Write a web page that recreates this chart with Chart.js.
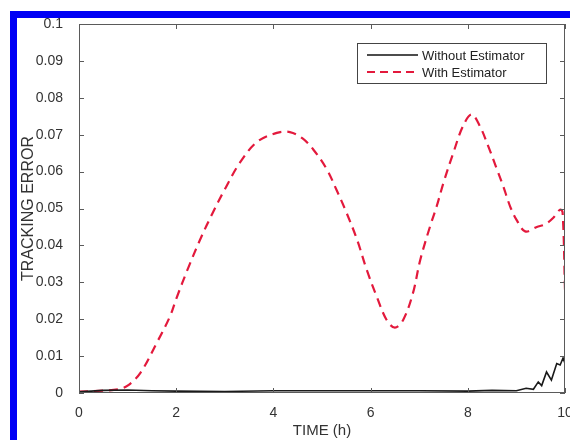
<!DOCTYPE html>
<html>
<head>
<meta charset="utf-8">
<script src="https://cdn.jsdelivr.net/npm/chart.js@4/dist/chart.umd.min.js"></script>
<style>
  html, body { margin: 0; padding: 0; background: #fff; }
  #wrap { position: relative; width: 570px; height: 440px; overflow: hidden; }
  #frame { position: absolute; left: 10px; top: 11px; right: -20px; bottom: -20px;
           border-left: 7px solid #0000f5; border-top: 7px solid #0000f5; pointer-events: none; }
  canvas { position: absolute; left: 0; top: 0; }
</style>
</head>
<body>
<div id="wrap">
  <canvas id="chart" width="570" height="440"></canvas>
  <div id="frame"></div>
</div>
<script>
// time axis (h) and tracking error for the two runs
const timeWith = [0, 0.4, 0.8, 1.0, 1.26, 1.6, 1.87, 2.0, 2.25, 2.5, 2.75, 3.0, 3.3, 3.66, 4.07, 4.34, 4.6, 4.82, 5.1, 5.3, 5.5, 5.72, 5.92, 6.13, 6.33, 6.5, 6.67, 6.87, 7.02, 7.22, 7.36, 7.5, 7.7, 7.9, 8.08, 8.25, 8.42, 8.6, 8.73, 8.87, 9.0, 9.18, 9.42, 9.59, 9.76, 9.9, 9.95, 10];
const errWith = [0.0004, 0.0006, 0.001, 0.002, 0.0054, 0.0136, 0.0207, 0.0255, 0.034, 0.0418, 0.0488, 0.0552, 0.0622, 0.068, 0.0705, 0.0707, 0.069, 0.066, 0.0606, 0.055, 0.049, 0.0416, 0.0334, 0.026, 0.0198, 0.0177, 0.0198, 0.027, 0.036, 0.045, 0.0506, 0.057, 0.065, 0.0723, 0.0755, 0.0723, 0.0669, 0.0606, 0.056, 0.0506, 0.047, 0.0438, 0.045, 0.0457, 0.0475, 0.0497, 0.049, 0.028];

const timeWithout = [0, 0.5, 1.0, 1.5, 2, 3, 4, 5, 6, 7, 8, 8.5, 9, 9.2, 9.35, 9.45, 9.52, 9.62, 9.72, 9.83, 9.9, 9.96, 10];
const errWithout = [0.0003, 0.0007, 0.0008, 0.0006, 0.0005, 0.0004, 0.0006, 0.0006, 0.0006, 0.0006, 0.0005, 0.0007, 0.0006, 0.0013, 0.001, 0.003, 0.002, 0.0057, 0.0035, 0.008, 0.0076, 0.0095, 0.008];

const xTicks = [0, 2, 4, 6, 8, 10];
const yTicks = [0, 0.01, 0.02, 0.03, 0.04, 0.05, 0.06, 0.07, 0.08, 0.09, 0.1];

const seriesNames = ['Without Estimator', 'With Estimator'];
const RED = '#e3193c';
const FONT = '"Liberation Sans", Arial, sans-serif';

const toPoints = (xs, ys) => xs.map((x, i) => ({ x: x, y: ys[i] }));

// box around the axes with inward ticks on every side, plus the boxed legend
const boxPlugin = {
  id: 'box',
  afterDatasetsDraw(chart) {
    const { ctx, chartArea: a, scales } = chart;
    ctx.save();
    ctx.strokeStyle = '#5a5a5a';
    ctx.lineWidth = 1;
    ctx.strokeRect(a.left + 0.5, a.top + 0.5, a.right - a.left - 1, a.bottom - a.top - 1);
    ctx.beginPath();
    const t = 5;
    xTicks.forEach(v => {
      const px = Math.round(scales.x.getPixelForValue(v)) + 0.5;
      ctx.moveTo(px, a.bottom); ctx.lineTo(px, a.bottom - t);
      ctx.moveTo(px, a.top); ctx.lineTo(px, a.top + t);
    });
    yTicks.forEach(v => {
      const py = Math.round(scales.y.getPixelForValue(v)) + 0.5;
      ctx.moveTo(a.left, py); ctx.lineTo(a.left + t, py);
      ctx.moveTo(a.right, py); ctx.lineTo(a.right - t, py);
    });
    ctx.stroke();

    // legend
    const lx = 357, ly = 43, lw = 189, lh = 40;
    ctx.fillStyle = '#fff';
    ctx.fillRect(lx, ly, lw, lh);
    ctx.strokeStyle = '#444';
    ctx.strokeRect(lx + 0.5, ly + 0.5, lw, lh);
    ctx.font = '13px ' + FONT;
    ctx.textBaseline = 'middle';
    ctx.fillStyle = '#222';
    const rows = [{ y: 55, color: '#111', dash: [], w: 1.6 }, { y: 72, color: RED, dash: [8, 5], w: 2 }];
    rows.forEach((r, i) => {
      ctx.beginPath();
      ctx.strokeStyle = r.color;
      ctx.lineWidth = r.w;
      ctx.setLineDash(r.dash);
      ctx.moveTo(367, r.y); ctx.lineTo(418, r.y);
      ctx.stroke();
      ctx.setLineDash([]);
      ctx.fillText(seriesNames[i], 422, r.y + 1);
    });
    ctx.restore();
  }
};

new Chart(document.getElementById('chart'), {
  type: 'line',
  data: {
    datasets: [
      {
        label: seriesNames[0],
        data: toPoints(timeWithout, errWithout),
        borderColor: '#1a1a1a',
        borderWidth: 1.6,
        pointRadius: 0,
        tension: 0
      },
      {
        label: seriesNames[1],
        data: toPoints(timeWith, errWith),
        borderColor: RED,
        borderWidth: 2.2,
        borderDash: [9, 6],
        pointRadius: 0,
        tension: 0.35
      }
    ]
  },
  options: {
    responsive: false,
    animation: false,
    layout: { padding: { left: 19, top: 24, right: 5, bottom: 0 } },
    plugins: { legend: { display: false }, tooltip: { enabled: false } },
    scales: {
      x: {
        type: 'linear',
        min: 0, max: 10,
        afterBuildTicks: s => { s.ticks = xTicks.map(v => ({ value: v })); },
        afterFit: s => { s.height = 47; s.paddingLeft = 0; s.paddingRight = 0; },
        grid: { display: false },
        border: { display: false },
        ticks: { color: '#333', font: { family: FONT, size: 14 }, padding: 4, maxRotation: 0 },
        title: { display: true, text: 'TIME (h)', color: '#333', font: { family: FONT, size: 15 }, padding: { top: 0, bottom: 0 } }
      },
      y: {
        min: 0, max: 0.1,
        afterBuildTicks: s => { s.ticks = yTicks.map(v => ({ value: v })); },
        afterFit: s => { s.width = 60; s.paddingTop = 0; s.paddingBottom = 0; },
        grid: { display: false },
        border: { display: false },
        ticks: { color: '#333', font: { family: FONT, size: 14 }, padding: 8, callback: v => String(Math.round(v * 100) / 100) },
        title: { display: true, text: 'TRACKING ERROR', color: '#333', font: { family: FONT, size: 16 }, padding: { top: 0, bottom: 2 } }
      }
    }
  },
  plugins: [boxPlugin]
});
</script>
</body>
</html>
